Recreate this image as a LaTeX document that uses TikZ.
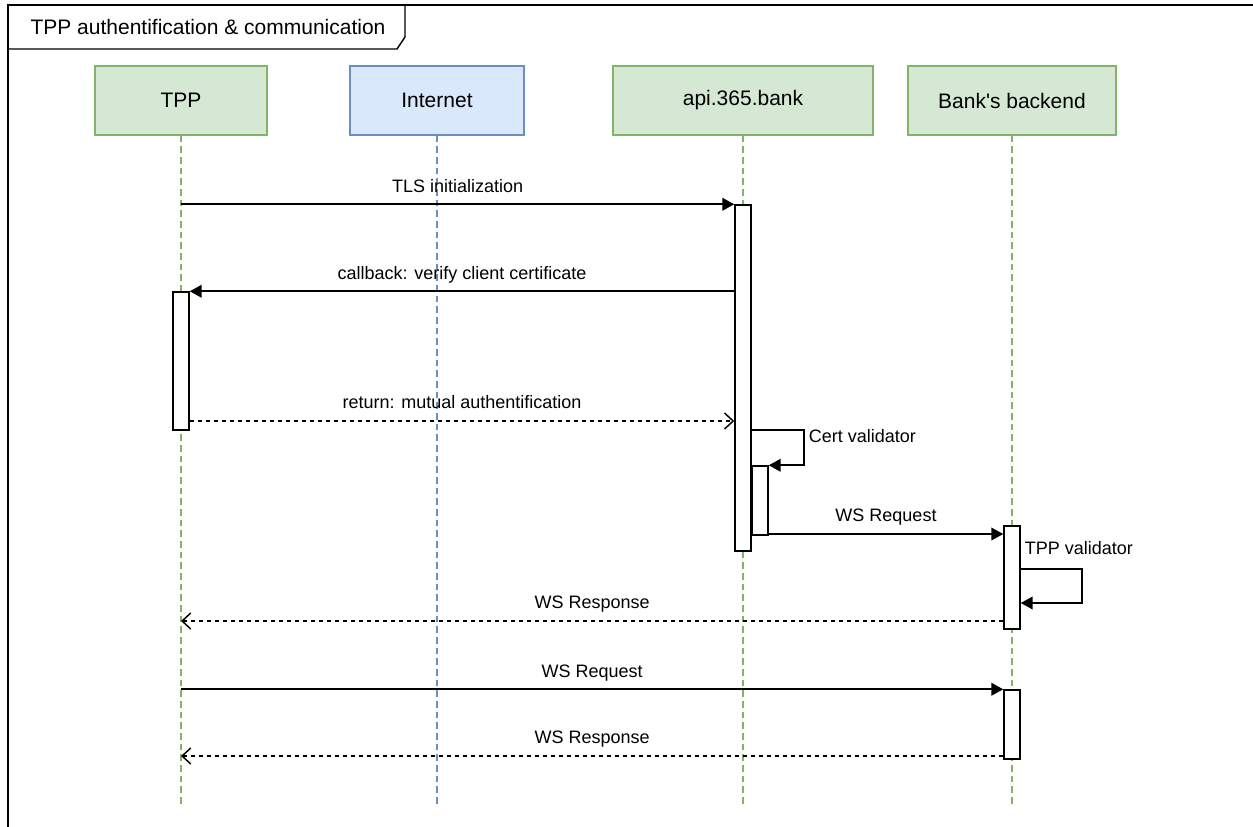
\documentclass[tikz,border=0pt]{standalone}
\usepackage{fontspec}
\setmainfont{Liberation Sans}
\usetikzlibrary{arrows.meta}

\definecolor{greenfill}{HTML}{D5E8D4}
\definecolor{greenline}{HTML}{82B366}
\definecolor{bluefill}{HTML}{DAE8FC}
\definecolor{blueline}{HTML}{6C8EBF}

\begin{document}
\begin{tikzpicture}[x=0.75pt, y=-0.75pt,
	header/.style={draw=greenline, fill=greenfill, line width=1pt,
		minimum height=51.75pt, font=\fontsize{15.75}{18}\selectfont},
	lifeline/.style={line width=0.9pt, dash pattern=on 5pt off 3pt},
	actbar/.style={draw, fill=white, line width=1.1pt, minimum width=12pt, inner sep=0pt},
	msg/.style={font=\fontsize{13.5}{16}\selectfont, text height=10pt, text depth=3pt, inner sep=2pt},
	sync/.style={line width=1.4pt, -{Triangle[length=9pt,width=9.5pt]}},
	reply/.style={line width=1.1pt, dash pattern=on 3pt off 3pt, -{Straight Barb[length=6.5pt,width=12pt]}}]

	% ---- page

	\useasboundingbox (0,0) rectangle (1253,826);

	\begin{scope}
		\clip (0,0) rectangle (1253,826);
		\draw[line width=1.5pt] (8,5) rectangle (1270,850);
	\end{scope}

	\draw[line width=1.1pt] (8,49) -- (397,49) -- (405,37) -- (405,5);
	\node[font=\fontsize{15.75}{18}\selectfont] (title) at (208,27) {TPP authentification \& communication};

	% ---- participants

	\node[header, minimum width=129pt] (tpp) at (181,100.5) {TPP};
	\node[header, draw=blueline, fill=bluefill, minimum width=130.5pt] (inet) at (437,100.5) {Internet};
	\node[header, minimum width=195pt] (api) at (743,100.5) {api.365.bank};
	\node[header, minimum width=156pt] (bank) at (1012,100.5) {Bank\textquotesingle s backend};

	% ---- lifelines

	\foreach \p/\col in {tpp/greenline, inet/blueline, api/greenline, bank/greenline} {
		\draw[lifeline, draw=\col] (\p.south) -- (\p.south |- 0,807);
	}

	% ---- activations

	\node[actbar, minimum height=103.5pt] (tppbar) at (181,361) {};
	\node[actbar, minimum height=259.5pt] (apibar) at (743,378) {};
	\node[actbar, minimum height=51.75pt] (certbar) at (760,500.5) {};
	\node[actbar, minimum height=77.25pt] (bankbar) at (1012,577.5) {};
	\node[actbar, minimum height=51.75pt] (bankbar2) at (1012,724.5) {};

	% ---- handshake

	\draw[sync] (tpp |- apibar.north) -- (apibar.north west)
		node[msg, midway, above=3.5pt] (m1) {TLS initialization};

	\draw[sync] (apibar.west |- tppbar.north) -- (tppbar.north east)
		node[msg, midway, above=3.5pt] (m2) {callback: verify client certificate};

	\draw[reply] (tppbar.east |- 0,421) -- (apibar.west |- 0,421)
		node[msg, midway, above=3.5pt] (m3) {return: mutual authentification};

	% ---- validation

	\draw[sync] (apibar.east |- 0,430) -- ++(52,0) |- (certbar.north east);
	\node[msg, anchor=west] (certlbl) at (806,438) {Cert validator};

	\draw[sync] (certbar.east |- 0,534) -- (bankbar.west |- 0,534)
		node[msg, midway, above=3.5pt] (m4) {WS Request};

	\draw[sync] (bankbar.east |- 0,569) -- ++(61,0) |- (bankbar.east |- 0,603);
	\node[msg, anchor=west] (tpplbl) at (1022,550) {TPP validator};

	\draw[reply] (bankbar.west |- 0,621) -- (tpp |- 0,621)
		node[msg, midway, above=3.5pt] (m5) {WS Response};

	% ---- communication

	\draw[sync] (tpp |- bankbar2.north) -- (bankbar2.north west)
		node[msg, midway, above=3.5pt] (m6) {WS Request};

	\draw[reply] (bankbar2.west |- 0,756) -- (tpp |- 0,756)
		node[msg, midway, above=3.5pt] (m7) {WS Response};

\end{tikzpicture}
\end{document}
